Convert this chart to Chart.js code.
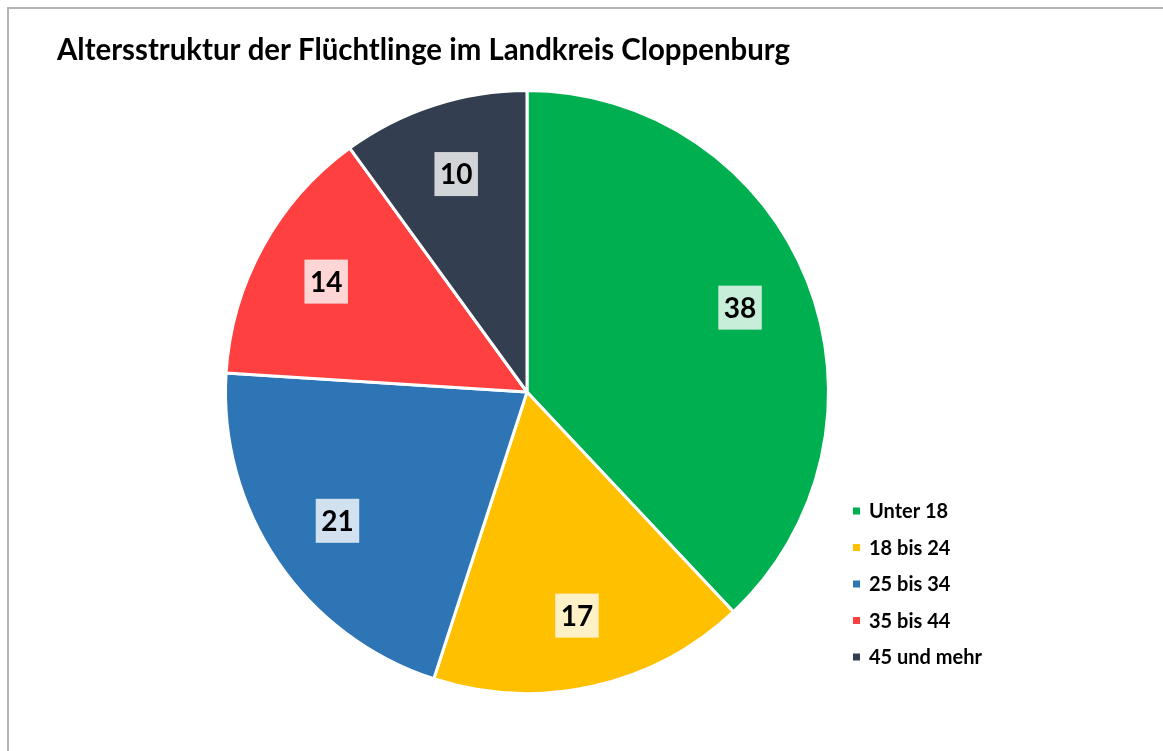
<!DOCTYPE html>
<html>
<head>
<meta charset="utf-8">
<script src="https://cdn.jsdelivr.net/npm/chart.js@4.4.1/dist/chart.umd.min.js"></script>
<style>
  html, body { margin: 0; padding: 0; background: #fff; }
  #wrap { position: relative; width: 1163px; height: 751px; overflow: hidden; }
  #frame { position: absolute; left: 7px; top: 7px; right: 0; bottom: 0; border-top: 2px solid #b4b4b4; border-left: 2px solid #b4b4b4; }
  #pie { position: absolute; left: 0; top: 0; }
</style>
</head>
<body>
<div id="wrap">
  <div id="frame"></div>
  <canvas id="pie" width="1163" height="751"></canvas>
</div>
<script>
// Altersstruktur
const title = 'Altersstruktur der Flüchtlinge im Landkreis Cloppenburg';
const categories = ['Unter 18', '18 bis 24', '25 bis 34', '35 bis 44', '45 und mehr'];
const values = [38, 17, 21, 14, 10];
const colors = ['#00B050', '#FFC000', '#2E75B6', '#FF4040', '#333F50'];

const FONT = 'Lato, "Open Sans", sans-serif';

// title + legend drawn by hand so they sit where the original has them
const decorPlugin = {
    id: 'decor',
    afterDraw(chart) {
        const ctx = chart.ctx;
        ctx.save();
        ctx.fillStyle = '#000';
        ctx.textBaseline = 'alphabetic';
        ctx.textAlign = 'left';
        ctx.font = 'bold 30px ' + FONT;
        ctx.fillText(title, 57, 60, 733);

        ctx.font = 'bold 20px ' + FONT;
        ctx.textBaseline = 'middle';
        categories.forEach((name, i) => {
            const y = 511 + i * 36.5;
            ctx.fillStyle = colors[i];
            ctx.fillRect(853, y - 3.5, 7, 7);
            ctx.fillStyle = '#000';
            ctx.fillText(name, 869, y + 1);
        });
        ctx.restore();
    }
};

// value boxes on the slices
const valueLabels = {
    id: 'valueLabels',
    afterDatasetsDraw(chart) {
        const ctx = chart.ctx;
        const meta = chart.getDatasetMeta(0);
        ctx.save();
        ctx.font = 'bold 28px ' + FONT;
        ctx.textAlign = 'center';
        ctx.textBaseline = 'middle';
        meta.data.forEach((arc, i) => {
            const p = arc.getProps(['x', 'y', 'startAngle', 'endAngle', 'outerRadius'], true);
            const mid = (p.startAngle + p.endAngle) / 2;
            const r = p.outerRadius * 0.76;
            const cx = p.x + Math.cos(mid) * r;
            const cy = p.y + Math.sin(mid) * r;
            const txt = String(values[i]);
            const w = ctx.measureText(txt).width + 11;
            const h = 44;
            ctx.fillStyle = 'rgba(255,255,255,0.78)';
            ctx.fillRect(cx - w / 2, cy - h / 2, w, h);
            ctx.fillStyle = '#000';
            ctx.fillText(txt, cx, cy + 1);
        });
        ctx.restore();
    }
};

const pieCtx = document.getElementById('pie').getContext('2d');
const pieChart = new Chart(pieCtx, {
    type: 'pie',
    data: {
        labels: categories,
        datasets: [{
            data: values,
            backgroundColor: colors,
            borderColor: '#ffffff',
            borderWidth: 3,
            hoverOffset: 0
        }]
    },
    options: {
        responsive: false,
        animation: false,
        layout: {
            padding: { top: 89, bottom: 56, left: 224, right: 333 }
        },
        plugins: {
            legend: { display: false },
            title: { display: false },
            tooltip: { enabled: false }
        }
    },
    plugins: [valueLabels, decorPlugin]
});
</script>
</body>
</html>
